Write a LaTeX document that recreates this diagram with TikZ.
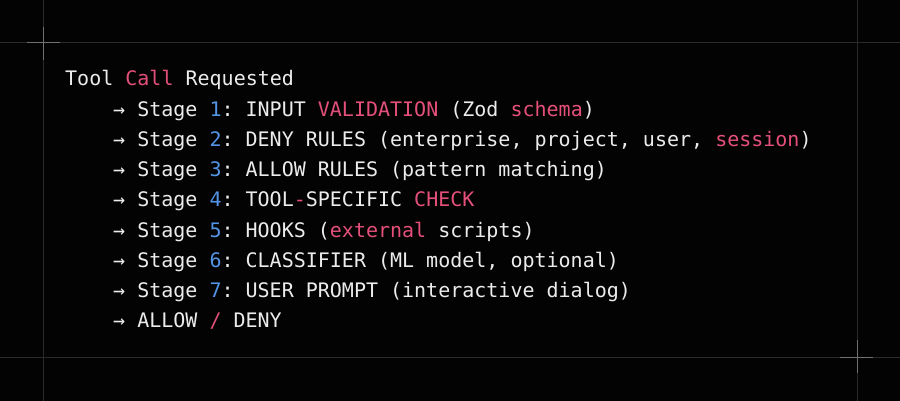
\documentclass[tikz,border=0pt]{standalone}
\usepackage{fontspec}
\setmonofont{DejaVu Sans Mono}
\definecolor{bgdark}{HTML}{030303}
\definecolor{gridgray}{HTML}{2A2A2A}
\definecolor{tickgray}{HTML}{707070}
\definecolor{txtwhite}{HTML}{ECECEC}
\definecolor{callred}{HTML}{E5507A}
\definecolor{stageblue}{HTML}{5394E6}
\newcommand{\pinkword}[1]{\textcolor{callred}{#1}}
\newcommand{\stagenum}[1]{\textcolor{stageblue}{#1}}
\tikzset{
 codeline/.style={anchor=base west, inner sep=0pt, text=txtwhite,
   font=\ttfamily\fontsize{20}{24}\selectfont},
 frame/.style={draw=gridgray, line width=1pt},
 tick/.style={draw=tickgray, line width=1pt},
 }

\begin{document}
\begin{tikzpicture}[x=1pt,y=-1pt]
        \fill[bgdark] (0,0) rectangle (900,401);
        \useasboundingbox (0,0) rectangle (900,401);
        % frame lines
        \draw[frame] (0,43) -- (900,43);
        \draw[frame] (0,357) -- (900,357);
        \draw[frame] (43,0) -- (43,401);
        \draw[frame] (857,0) -- (857,401);
        % corner marks
        \draw[tick] (27,43) -- (60,43);
        \draw[tick] (43,27) -- (43,60);
        \draw[tick] (840,357) -- (873,357);
        \draw[tick] (857,340) -- (857,373);
        % pipeline text
        \node[codeline] (title) at (65,86) {Tool \pinkword{Call} Requested};
        \node[codeline] (stage1) at (113,116.2) {→ Stage \stagenum{1}: INPUT \pinkword{VALIDATION} (Zod \pinkword{schema})};
        \node[codeline] (stage2) at (113,146.4) {→ Stage \stagenum{2}: DENY RULES (enterprise, project, user, \pinkword{session})};
        \node[codeline] (stage3) at (113,176.6) {→ Stage \stagenum{3}: ALLOW RULES (pattern matching)};
        \node[codeline] (stage4) at (113,206.8) {→ Stage \stagenum{4}: TOOL\pinkword{-}SPECIFIC \pinkword{CHECK}};
        \node[codeline] (stage5) at (113,237) {→ Stage \stagenum{5}: HOOKS (\pinkword{external} scripts)};
        \node[codeline] (stage6) at (113,267.2) {→ Stage \stagenum{6}: CLASSIFIER (ML model, optional)};
        \node[codeline] (stage7) at (113,297.4) {→ Stage \stagenum{7}: USER PROMPT (interactive dialog)};
        \node[codeline] (verdict) at (113,327.6) {→ ALLOW \pinkword{/} DENY};
    \end{tikzpicture}
\end{document}
